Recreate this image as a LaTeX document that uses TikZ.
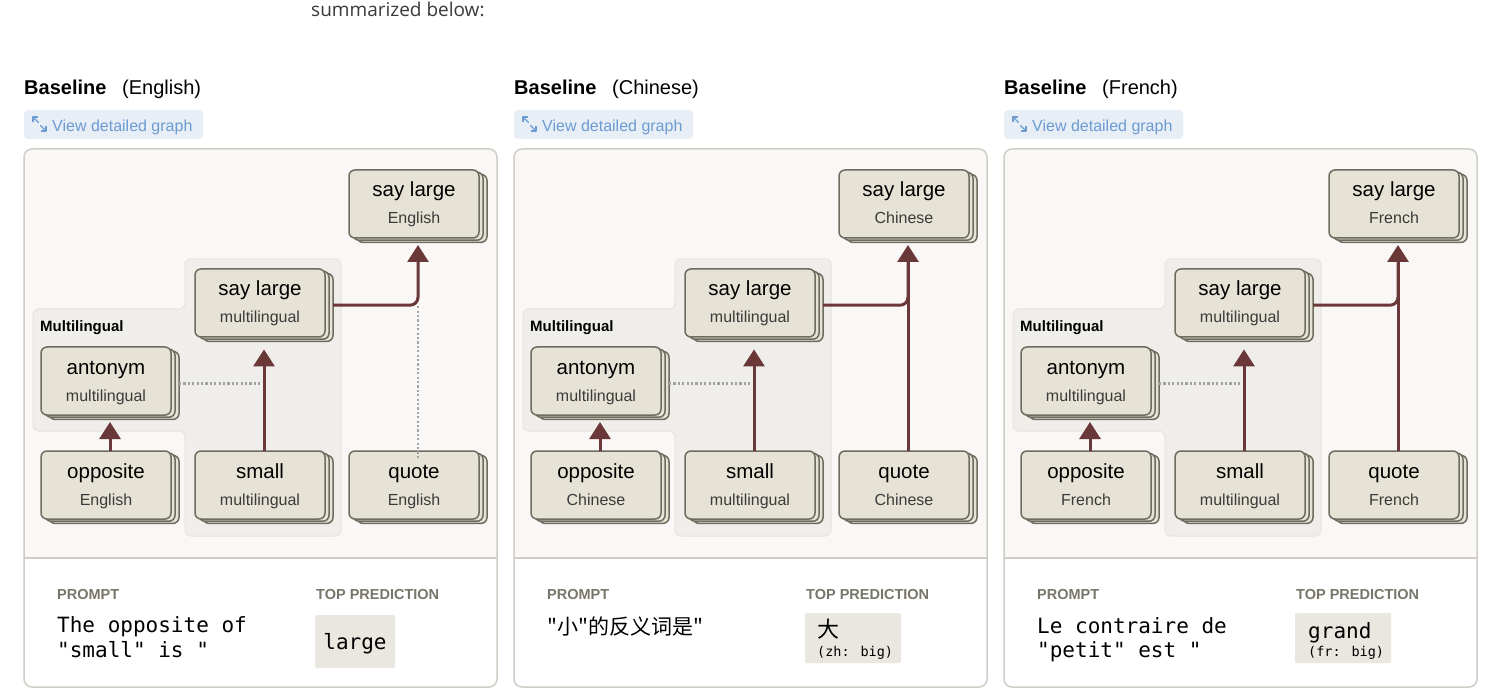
\documentclass[tikz,border=0pt]{standalone}
\usepackage{fontspec}
\setmainfont{Liberation Sans}
\newfontfamily\monof{DejaVu Sans Mono}
\newfontfamily\cjk{Noto Sans CJK SC}
\newfontfamily\topf{Open Sans}
\usetikzlibrary{arrows.meta}

\definecolor{nodefill}{HTML}{E6E3D6}
\definecolor{nodeline}{HTML}{6E6C5E}
\definecolor{graphbg}{HTML}{F9F8F6}
\definecolor{panelline}{HTML}{CFCDC6}
\definecolor{regionfill}{HTML}{EFEEEA}
\definecolor{regionline}{HTML}{E6E4DF}
\definecolor{arrowc}{HTML}{6A3838}
\definecolor{dotc}{HTML}{A2A2A2}
\definecolor{subc}{HTML}{3A3A3A}
\definecolor{labc}{HTML}{78766A}
\definecolor{predfill}{HTML}{E9E7E0}
\definecolor{btnfill}{HTML}{E8EEF6}
\definecolor{btntext}{HTML}{6C9BD2}

\newcommand\fs[1]{\fontsize{#1}{#1}\selectfont}

\tikzset{
  layer/.style={fill=nodefill, draw=nodeline, line width=1.5pt, rounded corners=6pt},
  stackbox/.style={minimum width=138pt, minimum height=72.4pt, inner sep=0pt, outer sep=0pt, draw=none},
  ttl/.style={anchor=base, font=\fs{20.5}, text=black, inner sep=0pt},
  subl/.style={anchor=base, font=\fs{16}, text=subc, inner sep=0pt},
  arr/.style={draw=arrowc, line width=3pt, -{Triangle[width=21pt,length=17pt]}},
  arrline/.style={draw=arrowc, line width=3pt},
  dotl/.style={draw=dotc, line width=2.6pt, dash pattern=on 2.2pt off 2.2pt},
  lab/.style={anchor=base west, font=\bfseries\fs{14.5}, text=labc, inner sep=0pt},
  mono/.style={anchor=base west, font=\monof\fs{21}, inner sep=0pt},
  smono/.style={anchor=base west, font=\monof\fs{13.5}, inner sep=0pt},
  predbox/.style={fill=predfill, rounded corners=2pt, inner sep=0pt},
  btnicon/.style={draw=btntext, line width=1.3pt, line cap=round, line join=round},
}

% stacked node: name, left, top, title, subtitle
\newcommand\stk[5]{%
  \path[layer] (#2+8,#3+4.4) rectangle ++(130,68);
  \path[layer] (#2+4,#3+2.2) rectangle ++(130,68);
  \path[layer] (#2,#3) rectangle ++(130,68);
  \node[stackbox] (#1) at (#2+69,#3+36.2) {};
  \node[ttl] (#1-t) at (#2+65,#3+27) {#4};
  \node[subl] (#1-s) at (#2+65,#3+54) {#5};
}

% common panel: id, language
\newcommand\panelbase[2]{%
  \fill[white, rounded corners=8pt] (24,149) rectangle (497,687);
  \begin{scope}
    \clip[rounded corners=8pt] (24,149) rectangle (497,687);
    \fill[graphbg] (24,149) rectangle (497,558);
  \end{scope}
  \draw[panelline, line width=1.5pt] (24,558) -- (497,558);
  \draw[panelline, line width=1.5pt, rounded corners=8pt] (24,149) rectangle (497,687);
  % header
  \node[anchor=base west, font=\bfseries\fs{20}, inner sep=0pt] (h#1) at (24,95) {Baseline};
  \node[anchor=base west, font=\fs{20}, inner sep=0pt] (hl#1) at (122,95) {(#2)};
  \node[fill=btnfill, rounded corners=4pt, minimum width=179pt, minimum height=29pt, inner sep=0pt] (b#1) at (113.5,124.5) {};
  \node[anchor=base west, text=btntext, font=\fs{16}, inner sep=0pt] (bt#1) at (52,131.5) {View detailed graph};
  \draw[btnicon] (33,121.5) -- (33,117) -- (37.5,117);
  \draw[btnicon] (33,117) -- (38.5,122.5);
  \draw[btnicon] (46,126.5) -- (46,131) -- (41.5,131);
  \draw[btnicon] (46,131) -- (40.5,125.5);
  % multilingual region
  \path[fill=regionfill, draw=regionline, line width=1pt, rounded corners=6pt]
    (33,431) -- (33,309) -- (185,309) -- (185,259) -- (341,259) -- (341,536) -- (185,536) -- (185,431) -- cycle;
  \node[anchor=base west, font=\bfseries\fs{15}, inner sep=0pt] (m#1) at (40,332) {Multilingual};
  % nodes
  \stk{e#1}{349}{170}{say large}{#2}
  \stk{l#1}{195}{269}{say large}{multilingual}
  \stk{a#1}{41}{347}{antonym}{multilingual}
  \stk{o#1}{41}{451}{opposite}{#2}
  \stk{s#1}{195}{451}{small}{multilingual}
  \stk{q#1}{349}{451}{quote}{#2}
  % connectors
  \draw[dotl] (a#1.east) -- (a#1.east -| s#1.north);
  \draw[arr] (o#1.north) -- ([yshift=-2.6pt]a#1.south);
  \draw[arr] (s#1.north) -- ([yshift=-8pt]l#1.south);
  % prompt labels
  \node[lab] (pl#1) at (57,599) {PROMPT};
  \node[lab] (tl#1) at (316,599) {TOP PREDICTION};
}

\begin{document}
\begin{tikzpicture}[x=1pt, y=-1pt]
\useasboundingbox (0,0) rectangle (1512,700);
\fill[white] (0,0) rectangle (1512,700);
\node[anchor=base west, font=\topf\fs{19}, text=subc, inner sep=0pt] (intro) at (311,17) {summarized below:};

% Panel 1: English
\begin{scope}
  \panelbase{1}{English}
  \draw[dotl] ([yshift=-7pt]q1.north) -- (q1.north |- l1.east);
  \draw[arr, rounded corners=8pt] (l1.east) -- (l1.east -| e1.south) -- ([yshift=-2.6pt]e1.south);
  \node[mono] (pr1a) at (57,632) {The opposite of};
  \node[mono] (pr1b) at (57,657) {"small" is "};
  \node[predbox, minimum width=80pt, minimum height=53pt] (pb1) at (355,641.5) {};
  \node[anchor=base, font=\monof\fs{21}, inner sep=0pt] (pt1) at (355,649) {large};
\end{scope}

% Panel 2: Chinese
\begin{scope}[xshift=490pt]
  \panelbase{2}{Chinese}
  \draw[arrline, rounded corners=8pt] (l2.east) -- (l2.east -| e2.south) -- ([yshift=-20pt]e2.south);
  \draw[arr] (q2.north) -- ([yshift=-2.6pt]e2.south);
  \node[anchor=base west, font=\cjk\fs{21}, inner sep=0pt] (pr2) at (57,634) {"小"的反义词是"};
  \node[predbox, minimum width=96pt, minimum height=50pt] (pb2) at (363,638) {};
  \node[anchor=west, font=\cjk\fs{22}, inner sep=0pt] (pt2) at (327,629) {大};
  \node[smono] (pz2) at (327,656) {(zh: big)};
\end{scope}

% Panel 3: French
\begin{scope}[xshift=980pt]
  \panelbase{3}{French}
  \draw[arrline, rounded corners=8pt] (l3.east) -- (l3.east -| e3.south) -- ([yshift=-20pt]e3.south);
  \draw[arr] (q3.north) -- ([yshift=-2.6pt]e3.south);
  \node[mono] (pr3a) at (57,633) {Le contraire de};
  \node[mono] (pr3b) at (57,657) {"petit" est "};
  \node[predbox, minimum width=96pt, minimum height=50pt] (pb3) at (363,638) {};
  \node[mono] (pt3) at (328,638) {grand};
  \node[smono] (pz3) at (328,656) {(fr: big)};
\end{scope}
\end{tikzpicture}
\end{document}
